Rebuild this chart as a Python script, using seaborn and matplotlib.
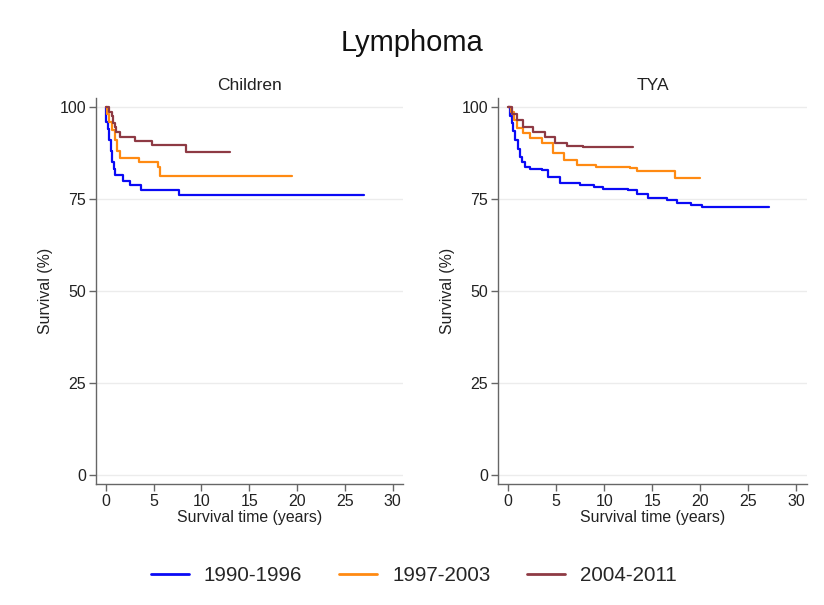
import numpy as np
import pandas as pd
import matplotlib
matplotlib.use("Agg")
import matplotlib.pyplot as plt
from matplotlib.lines import Line2D
import seaborn as sns

# Kaplan-Meier step estimates (time in years, survival in %)
periods = ["1990-1996", "1997-2003", "2004-2011"]
groups = ["Children", "TYA"]

child_9096_t = [0.0, 0.05, 0.2, 0.35, 0.5, 0.65, 0.8, 1.0, 1.8, 2.5, 3.7, 7.6, 27.0]
child_9096_s = [100, 96.0, 94.0, 91.0, 88.0, 85.0, 83.0, 81.5, 80.0, 78.8, 77.4, 76.0, 76.0]
child_9703_t = [0.0, 0.1, 0.3, 0.6, 0.9, 1.2, 1.45, 3.5, 5.4, 5.7, 19.5]
child_9703_s = [100, 98.0, 96.0, 93.7, 91.0, 88.0, 86.0, 85.1, 83.8, 81.2, 81.2]
child_0411_t = [0.0, 0.3, 0.6, 0.75, 0.9, 1.1, 1.45, 3.0, 4.8, 8.4, 13.0]
child_0411_s = [100, 98.7, 97.4, 95.5, 94.5, 93.3, 91.8, 90.6, 89.7, 87.7, 87.7]

tya_9096_t = [0.0, 0.2, 0.4, 0.55, 0.73, 1.0, 1.25, 1.5, 1.8, 2.3, 3.5, 4.2, 5.4, 7.5,
              8.9, 9.9, 12.5, 13.4, 14.6, 16.5, 17.6, 19.0, 20.2, 27.1]
tya_9096_s = [100, 97.5, 95.6, 93.5, 91.0, 88.5, 86.5, 85.0, 83.8, 83.2, 82.9, 80.9, 79.3, 78.8,
              78.3, 77.7, 77.4, 76.4, 75.2, 74.7, 74.0, 73.4, 72.9, 72.9]
tya_9703_t = [0.0, 0.3, 0.6, 0.9, 1.6, 2.3, 3.5, 4.7, 5.8, 7.2, 9.2, 12.7, 13.4, 17.4, 20.0]
tya_9703_s = [100, 98.5, 96.5, 94.2, 92.8, 91.5, 90.1, 87.4, 85.6, 84.2, 83.8, 83.3, 82.7, 80.6, 80.6]
tya_0411_t = [0.0, 0.4, 0.9, 1.6, 2.6, 3.85, 4.9, 6.1, 7.8, 13.0]
tya_0411_s = [100, 98.0, 96.5, 94.6, 93.3, 91.9, 90.1, 89.5, 89.0, 89.0]

series = {
    ("Children", "1990-1996"): (child_9096_t, child_9096_s),
    ("Children", "1997-2003"): (child_9703_t, child_9703_s),
    ("Children", "2004-2011"): (child_0411_t, child_0411_s),
    ("TYA", "1990-1996"): (tya_9096_t, tya_9096_s),
    ("TYA", "1997-2003"): (tya_9703_t, tya_9703_s),
    ("TYA", "2004-2011"): (tya_0411_t, tya_0411_s),
}

rows = []
for (g, p), (t, s) in series.items():
    for ti, si in zip(t, s):
        rows.append({"group": g, "period": p, "time": ti, "surv": si})
df = pd.DataFrame(rows)

colors = {"1990-1996": "#0A0AF5", "1997-2003": "#FF8A12", "2004-2011": "#8E3A44"}

sns.set_theme(style="white")
plt.rcParams["font.family"] = ["Liberation Sans", "DejaVu Sans"]

fig = plt.figure(figsize=(8.24, 6.05), dpi=100)
axes = [fig.add_axes([0.1165, 0.2, 0.3726, 0.638]),
        fig.add_axes([0.6044, 0.2, 0.375, 0.638])]

for ax, g in zip(axes, groups):
    sub = df[df["group"] == g]
    for yv in [0, 25, 50, 75, 100]:
        ax.axhline(yv, color="#ECECEC", lw=1.0, zorder=0)
    sns.lineplot(data=sub, x="time", y="surv", hue="period", hue_order=periods,
                 palette=colors, drawstyle="steps-post", estimator=None,
                 sort=False, lw=1.6, legend=False, ax=ax)
    ax.set_xlim(-1.04, 31.1)
    ax.set_ylim(-2.4, 102.4)
    ax.set_xticks([0, 5, 10, 15, 20, 25, 30])
    ax.set_yticks([0, 25, 50, 75, 100])
    ax.set_title(g, fontsize=12.5, color="#222222", pad=6)
    ax.set_xlabel("Survival time (years)", fontsize=11.4, color="#222222", labelpad=1)
    ax.set_ylabel("Survival (%)", fontsize=11.4, color="#222222", labelpad=5)
    for side in ["top", "right"]:
        ax.spines[side].set_visible(False)
    for side in ["left", "bottom"]:
        ax.spines[side].set_color("#666666")
        ax.spines[side].set_linewidth(1.0)
    ax.tick_params(axis="both", which="major", direction="out", length=5, width=1,
                   color="#666666", labelsize=11.5, labelcolor="#222222", pad=2,
                   left=True, bottom=True)

fig.suptitle("Lymphoma", fontsize=21, y=0.952, color="#111111")

handles = [Line2D([0], [0], color=colors[p], lw=2) for p in periods]
fig.legend(handles, periods, loc="center", bbox_to_anchor=(0.5024, 0.049), ncol=3,
           frameon=False, fontsize=14.8, handlelength=1.85, columnspacing=1.8,
           handletextpad=0.73)

fig.savefig("out.png", dpi=100)
